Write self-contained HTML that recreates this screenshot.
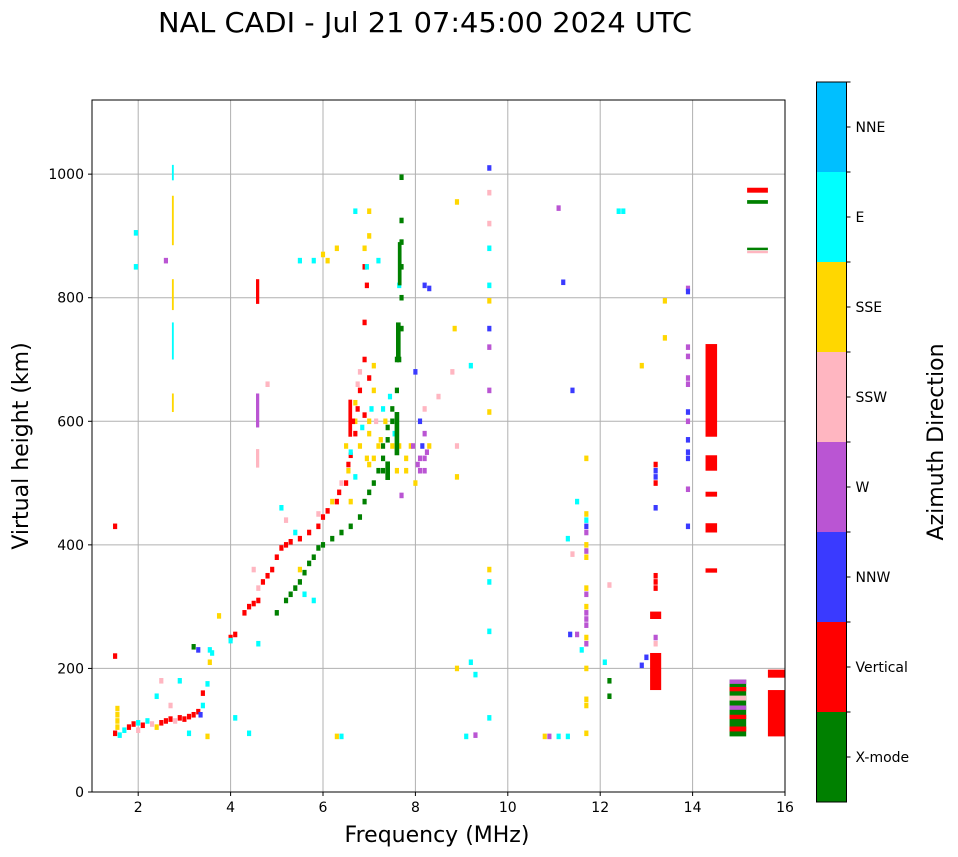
<!DOCTYPE html>
<html><head><meta charset="utf-8">
<style>
html,body{margin:0;padding:0;background:#fff;}
svg{display:block;font-family:"DejaVu Sans","Liberation Sans",sans-serif;}
</style></head>
<body>
<svg id="chart" width="958" height="857" viewBox="0 0 958 857">
<text x="425" y="32" font-size="28" text-anchor="middle" textLength="534" lengthAdjust="spacingAndGlyphs">NAL CADI - Jul 21 07:45:00 2024 UTC</text>
<g id="grid"></g>
<g id="marks"></g>
<rect x="92" y="100" width="693" height="692" fill="none" stroke="#000" stroke-width="1"/>
<g id="axes"></g>
<text x="437" y="842" font-size="22" text-anchor="middle">Frequency (MHz)</text>
<text transform="translate(28,446) rotate(-90)" font-size="22" text-anchor="middle">Virtual height (km)</text>
<g id="cbar"></g>
<text transform="translate(943,442) rotate(-90)" font-size="22" text-anchor="middle">Azimuth Direction</text>
</svg>
<script>
const catNames = ["X-mode","Vertical","NNW","W","SSW","SSE","E","NNE"];
const catColors = ["#008000","#ff0000","#3a3aff","#ba55d3","#ffb6c1","#ffd700","#00ffff","#00bfff"];
const xTicks = [2,4,6,8,10,12,14,16];
const yTicks = [0,200,400,600,800,1000];
// echo cells: frequency (MHz), virtual height (km), category index
const freqs = [
1.5,1.55,1.55,1.55,1.55,1.6,1.7,1.8,1.9,2.0,2.0,2.1,2.2,2.3,2.4,2.5,2.6,2.7,2.8,2.9,3.0,3.1,3.2,3.3,3.35,3.4,3.4,3.5,3.55,3.55,3.6,3.5,3.3,3.2,2.4,2.5,2.7,2.9,3.1,1.5,1.5,1.95,1.95,2.6,
4.0,4.0,4.1,3.75,4.3,4.4,4.5,4.6,4.6,4.7,4.8,4.9,5.0,5.1,5.2,5.3,5.5,5.7,5.9,6.0,6.1,6.3,6.35,6.5,6.55,6.6,6.7,6.75,6.8,6.9,6.9,6.9,6.95,
5.0,5.2,5.3,5.4,5.5,5.6,5.7,5.8,5.9,6.0,6.2,6.4,6.6,6.8,6.9,7.0,7.1,7.2,7.3,7.4,7.5,7.6,7.65,7.7,7.7,7.7,7.7,7.7,7.7,
4.5,4.6,5.1,5.2,5.4,5.5,5.6,5.8,5.9,6.2,6.4,6.5,6.7,6.8,7.0,7.0,7.1,7.2,7.3,7.5,7.6,7.8,7.9,8.0,8.1,8.2,8.2,8.1,8.0,7.7,8.2,8.5,8.9,8.9,8.8,8.85,8.9,7.0,6.7,6.9,6.3,6.1,5.8,5.5,6.0,7.2,8.2,8.3,7.0,7.65,6.95,4.8,
6.55,6.6,6.65,6.7,6.75,6.8,6.85,6.95,7.0,7.05,7.1,7.15,7.25,7.35,7.45,7.55,7.65,7.8,7.95,8.05,8.15,8.25,6.9,7.0,7.1,7.3,7.4,7.6,8.1,8.2,8.3,6.6,6.7,7.3,7.5,
9.6,9.6,9.6,9.6,9.6,9.6,9.6,9.6,9.6,9.6,9.6,9.6,9.6,9.6,9.2,9.2,9.3,8.9,9.1,9.3,6.3,6.4,4.4,4.1,
11.1,11.2,11.4,11.3,11.5,11.4,11.35,11.5,11.6,11.3,10.8,10.9,11.1,
11.7,11.7,11.7,11.7,11.7,11.7,11.7,11.7,11.7,11.7,11.7,11.7,11.7,11.7,11.7,11.7,11.7,11.7,11.7,11.7,
12.1,12.2,12.2,12.2,12.4,12.5,12.9,13.4,13.4,
13.2,13.2,13.2,13.2,13.2,13.2,13.2,13.2,13.2,13.2,13.2,13.2,13.0,12.9,
13.9,13.9,13.9,13.9,13.9,13.9,13.9,13.9,13.9,13.9,13.9,13.9,13.9
];
const heights = [
95,105,115,125,135,92,100,105,110,100,112,108,115,110,105,112,115,118,115,120,118,122,125,130,125,160,140,175,210,230,225,90,230,235,155,180,140,180,95,430,220,905,850,860,
250,245,255,285,290,300,305,310,330,340,350,360,380,395,400,405,410,420,430,445,455,470,485,500,530,545,580,620,650,700,760,850,820,
290,310,320,330,340,355,370,380,395,400,410,420,430,445,470,485,500,520,540,570,600,650,700,750,800,850,890,925,995,
360,240,460,440,420,360,320,310,450,470,500,560,600,680,600,530,650,560,620,560,520,540,560,500,520,540,580,600,680,480,620,640,560,510,680,750,955,940,940,880,880,860,860,860,870,860,820,815,900,820,850,660,
520,550,600,630,660,560,590,540,580,620,540,600,570,600,640,580,560,520,560,530,560,550,610,670,690,560,590,700,540,520,560,470,510,520,620,
1010,970,920,880,820,795,750,720,650,615,360,340,260,120,690,210,190,200,90,92,90,90,95,120,
945,825,650,410,470,385,255,255,230,90,90,90,90,
540,450,440,430,420,400,390,380,330,320,300,290,280,270,250,240,200,150,140,95,
210,180,155,335,940,940,690,795,735,
530,520,510,500,460,350,340,330,250,240,200,190,218,205,
815,810,720,705,670,660,615,600,570,550,540,490,430
];
const cats = [
1,5,5,5,5,6,6,1,1,4,6,1,6,4,5,1,1,1,4,1,1,1,1,1,2,1,6,6,5,6,6,5,2,0,6,4,4,6,6,1,1,6,6,3,
1,6,1,5,1,1,1,1,4,1,1,1,1,1,1,1,1,1,1,1,1,1,1,1,1,1,1,1,1,1,1,1,1,
0,0,0,0,0,0,0,0,0,0,0,0,0,0,0,0,0,0,0,0,0,0,0,0,0,0,0,0,0,
4,6,6,4,6,5,6,6,4,5,4,5,5,4,5,5,5,5,6,5,5,5,5,5,3,3,3,2,2,3,4,4,4,5,4,5,5,5,6,5,5,5,6,6,5,6,2,2,5,6,6,4,
5,6,1,5,4,5,6,5,5,6,5,4,5,5,6,6,5,5,3,3,2,3,1,1,5,0,0,0,3,3,5,5,6,0,0,
2,4,4,6,6,5,2,3,3,5,5,6,6,6,6,6,6,5,6,3,5,6,6,6,
3,2,2,6,6,4,2,3,6,6,5,3,6,
5,5,6,2,3,5,3,5,5,3,5,3,3,3,5,3,5,5,5,5,
6,0,0,4,6,6,5,5,5,
1,2,2,1,2,1,1,1,3,4,1,1,2,2,
3,2,3,3,3,3,2,3,2,2,2,3,2
];
// larger echo spans: start/end frequency (MHz), bottom/top height (km), category
const spanF0 = [2.73,2.73,2.73,2.73,2.73,4.55,4.55,4.55,7.62,7.58,13.08,13.08,14.28,14.28,14.28,14.28,14.28,14.8,14.8,14.8,14.8,14.8,14.8,14.8,15.63,15.63,15.18,15.18,15.18,15.18,7.55,7.35,6.55];
const spanF1 = [2.77,2.77,2.77,2.77,2.77,4.62,4.62,4.62,7.7,7.68,13.32,13.32,14.53,14.53,14.53,14.53,14.53,15.16,15.16,15.16,15.16,15.16,15.16,15.16,16.0,16.0,15.63,15.63,15.63,15.63,7.65,7.45,6.63];
const spanH0 = [615,700,780,885,990,590,525,790,820,700,165,280,575,420,478,520,355,90,175,163,148,133,118,98,90,185,970,952,877,872,545,505,575];
const spanH1 = [645,760,830,965,1015,645,555,830,890,760,225,292,725,435,486,545,362,182,182,170,156,140,125,106,165,198,978,958,881,876,615,535,635];
const spanC = [5,6,5,5,6,3,4,1,0,0,1,1,1,1,1,1,1,0,3,1,4,3,1,1,1,1,1,0,0,4,0,0,1];

const NS="http://www.w3.org/2000/svg";
const L=92,R=785,T=100,B=792,fMin=1,fMax=16,hMin=0,hMax=1120;
function xs(f){return L+(f-fMin)/(fMax-fMin)*(R-L);}
function ys(h){return B-(h-hMin)/(hMax-hMin)*(B-T);}
function mk(tag,attrs,parent){const e=document.createElementNS(NS,tag);for(const k in attrs)e.setAttribute(k,attrs[k]);parent.appendChild(e);return e;}
const grid=document.getElementById('grid'),axes=document.getElementById('axes'),marks=document.getElementById('marks'),cbar=document.getElementById('cbar');
xTicks.forEach(t=>{const x=xs(t);
 const g=mk('line',{x1:x,x2:x,y1:T,y2:B,stroke:'#b0b0b0','stroke-width':1},grid);
 
 
 const tk=mk('line',{x1:x,x2:x,y1:B,y2:B+4,stroke:'#000'},axes);
 
 
 const tx=mk('text',{x:x,y:B+20,'font-size':14,'text-anchor':'middle'},axes);tx.textContent=t;
 
 
});
yTicks.forEach(t=>{const y=ys(t);
 const g=mk('line',{x1:L,x2:R,y1:y,y2:y,stroke:'#b0b0b0','stroke-width':1},grid);
 
 
 const tk=mk('line',{x1:L-4,x2:L,y1:y,y2:y,stroke:'#000'},axes);
 
 
 const tx=mk('text',{x:L-8,y:y+5,'font-size':14,'text-anchor':'end'},axes);tx.textContent=t;
 
 
});
const cw=0.09, ch=9;
for(let i=0;i<freqs.length;i++){
 const x0=xs(freqs[i]-cw/2),x1=xs(freqs[i]+cw/2),y0=ys(heights[i]+ch/2),y1=ys(heights[i]-ch/2);
 const r=mk('rect',{x:x0,y:y0,width:x1-x0,height:y1-y0,fill:catColors[cats[i]]},marks);
 
 
}
for(let i=0;i<spanF0.length;i++){
 const x0=xs(spanF0[i]),x1=xs(spanF1[i]),y0=ys(spanH1[i]),y1=ys(spanH0[i]);
 const r=mk('rect',{x:x0,y:y0,width:x1-x0,height:y1-y0,fill:catColors[spanC[i]]},marks);
 
 
}
// colorbar
const cbX=816.5,cbW=30,cbT=82,cbB=802,seg=(cbB-cbT)/catNames.length;
catNames.forEach((n,i)=>{const y=cbB-(i+1)*seg;
 const r=mk('rect',{x:cbX,y:y,width:cbW,height:seg,fill:catColors[i]},cbar);
 
 
 const tk=mk('line',{x1:cbX+cbW,x2:cbX+cbW+4,y1:y+seg/2,y2:y+seg/2,stroke:'#000'},cbar);
 
 
 const tk2=mk('line',{x1:cbX+cbW,x2:cbX+cbW+4,y1:y,y2:y,stroke:'#000'},cbar);
 
 
 const tx=mk('text',{x:cbX+cbW+9,y:y+seg/2+5,'font-size':14},cbar);tx.textContent=n;
 
 
});
const fr=mk('rect',{x:cbX,y:cbT,width:cbW,height:cbB-cbT,fill:'none',stroke:'#000'},cbar);


</script>
</body></html>
